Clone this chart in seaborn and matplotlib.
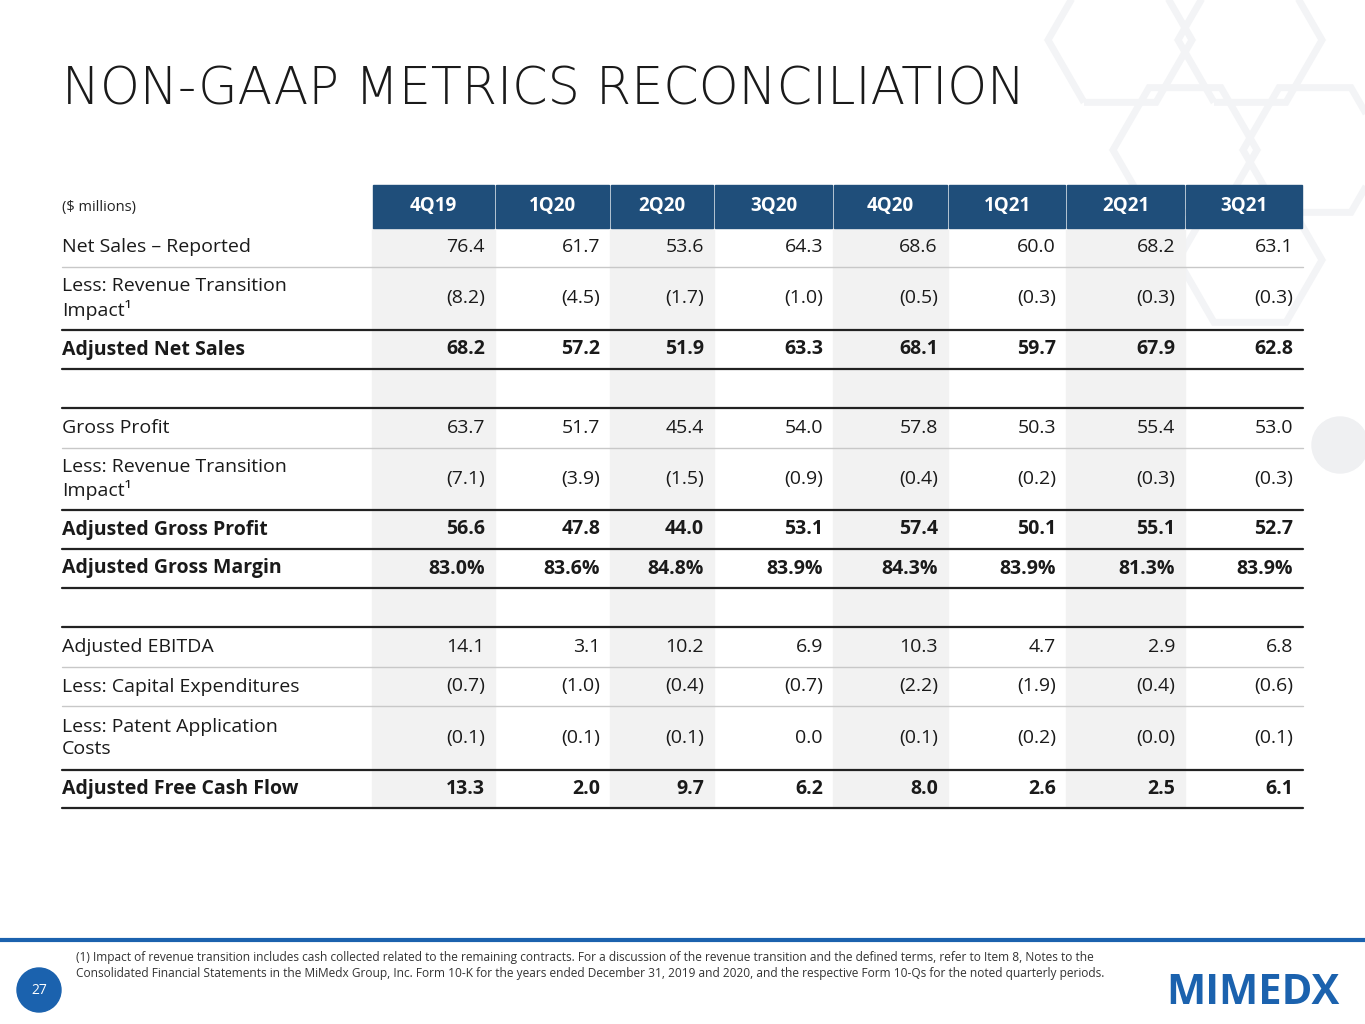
import matplotlib.pyplot as plt
import numpy as np
import seaborn as sns
from matplotlib.patches import Rectangle, RegularPolygon, Circle

sns.set_theme(style="white")
plt.rcParams["font.family"] = ["Open Sans", "DejaVu Sans"]

quarters = ["4Q19", "1Q20", "2Q20", "3Q20", "4Q20", "1Q21", "2Q21", "3Q21"]
row_labels = [
    "Net Sales \u2013 Reported", "Less: Revenue Transition\nImpact\u00b9", "Adjusted Net Sales", "",
    "Gross Profit", "Less: Revenue Transition\nImpact\u00b9", "Adjusted Gross Profit",
    "Adjusted Gross Margin", "", "Adjusted EBITDA", "Less: Capital Expenditures",
    "Less: Patent Application\nCosts", "Adjusted Free Cash Flow",
]
row_bold = [False, False, True, False, False, False, True, True, False, False, False, False, True]
values = [
    ["76.4", "61.7", "53.6", "64.3", "68.6", "60.0", "68.2", "63.1"],
    ["(8.2)", "(4.5)", "(1.7)", "(1.0)", "(0.5)", "(0.3)", "(0.3)", "(0.3)"],
    ["68.2", "57.2", "51.9", "63.3", "68.1", "59.7", "67.9", "62.8"],
    [""] * 8,
    ["63.7", "51.7", "45.4", "54.0", "57.8", "50.3", "55.4", "53.0"],
    ["(7.1)", "(3.9)", "(1.5)", "(0.9)", "(0.4)", "(0.2)", "(0.3)", "(0.3)"],
    ["56.6", "47.8", "44.0", "53.1", "57.4", "50.1", "55.1", "52.7"],
    ["83.0%", "83.6%", "84.8%", "83.9%", "84.3%", "83.9%", "81.3%", "83.9%"],
    [""] * 8,
    ["14.1", "3.1", "10.2", "6.9", "10.3", "4.7", "2.9", "6.8"],
    ["(0.7)", "(1.0)", "(0.4)", "(0.7)", "(2.2)", "(1.9)", "(0.4)", "(0.6)"],
    ["(0.1)", "(0.1)", "(0.1)", "0.0", "(0.1)", "(0.2)", "(0.0)", "(0.1)"],
    ["13.3", "2.0", "9.7", "6.2", "8.0", "2.6", "2.5", "6.1"],
]

navy = "#1f4e7a"
blue = "#1b62ae"
col_edges = [372, 495, 610, 714, 833, 948, 1066, 1185, 1303]
row_edges = [228, 267, 330, 369, 408, 448, 510, 549, 588, 627, 667, 706, 770, 808]
dark_lines = {330, 369, 408, 510, 549, 588, 627, 770, 808}

fig = plt.figure(figsize=(13.65, 10.24), dpi=100)
ax = fig.add_axes([0, 0, 1, 1])
ax.set_xlim(0, 1365)
ax.set_ylim(1024, 0)
ax.axis("off")

# background hexagons
for cx, cy in [(1120, 40), (1250, 40), (1185, 150), (1315, 150), (1250, 260), (1185, -70)]:
    ax.add_patch(RegularPolygon((cx, cy), 6, radius=72, orientation=np.pi / 6,
                                fill=False, ec="#f3f4f6", lw=5, zorder=0))
ax.add_patch(Circle((1340, 445), 28, color="#eff0f2", zorder=0))

ax.text(62, 90, "NON-GAAP METRICS RECONCILIATION", fontsize=36.5, color="#1a1a1a",
        va="center", ha="left", family="DejaVu Sans", fontweight="light")

# shaded columns
for j in range(len(quarters)):
    x0, x1 = col_edges[j], col_edges[j + 1]
    if j % 2 == 0:
        ax.add_patch(Rectangle((x0, 228), x1 - x0, 808 - 228, color="#f2f2f2", zorder=1))
    ax.add_patch(Rectangle((x0 + 1, 185), x1 - x0 - 2, 43, color=navy, zorder=2))
    ax.text((x0 + x1) / 2, 206, quarters[j], color="white", fontsize=13.5,
            fontweight="bold", ha="center", va="center", zorder=3)
ax.text(62, 207, "($ millions)", fontsize=10.5, color="#222", va="center")

for y in row_edges[1:]:
    dark = y in dark_lines
    ax.plot([62, 1303], [y, y], color="#222" if dark else "#c8c8c8",
            lw=1.6 if dark else 1, zorder=3)

for i, (label, bold) in enumerate(zip(row_labels, row_bold)):
    yc = (row_edges[i] + row_edges[i + 1]) / 2
    w = "bold" if bold else "normal"
    ax.text(62, yc, label, fontsize=14, fontweight=w, va="center", ha="left",
            color="#1a1a1a", linespacing=1.3, zorder=4)
    for j, v in enumerate(values[i]):
        ax.text(col_edges[j + 1] - 10, yc, v, fontsize=14, fontweight=w,
                va="center", ha="right", color="#1a1a1a", zorder=4)

# footer
ax.plot([0, 1365], [940, 940], color=blue, lw=3)
ax.add_patch(Circle((39, 990), 22, color=blue))
ax.text(39, 990, "27", color="white", fontsize=10, ha="center", va="center")
ax.text(76, 965, "(1) Impact of revenue transition includes cash collected related to the remaining contracts. "
        "For a discussion of the revenue transition and the defined terms, refer to Item 8, Notes to the\n"
        "Consolidated Financial Statements in the MiMedx Group, Inc. Form 10-K for the years ended "
        "December 31, 2019 and 2020, and the respective Form 10-Qs for the noted quarterly periods.",
        fontsize=8.6, color="#333", va="center", ha="left", linespacing=1.3)
ax.text(1340, 993, "MIMEDX", fontsize=30, fontweight="bold", color=blue, ha="right", va="center")

fig.savefig("out.png", dpi=100)
